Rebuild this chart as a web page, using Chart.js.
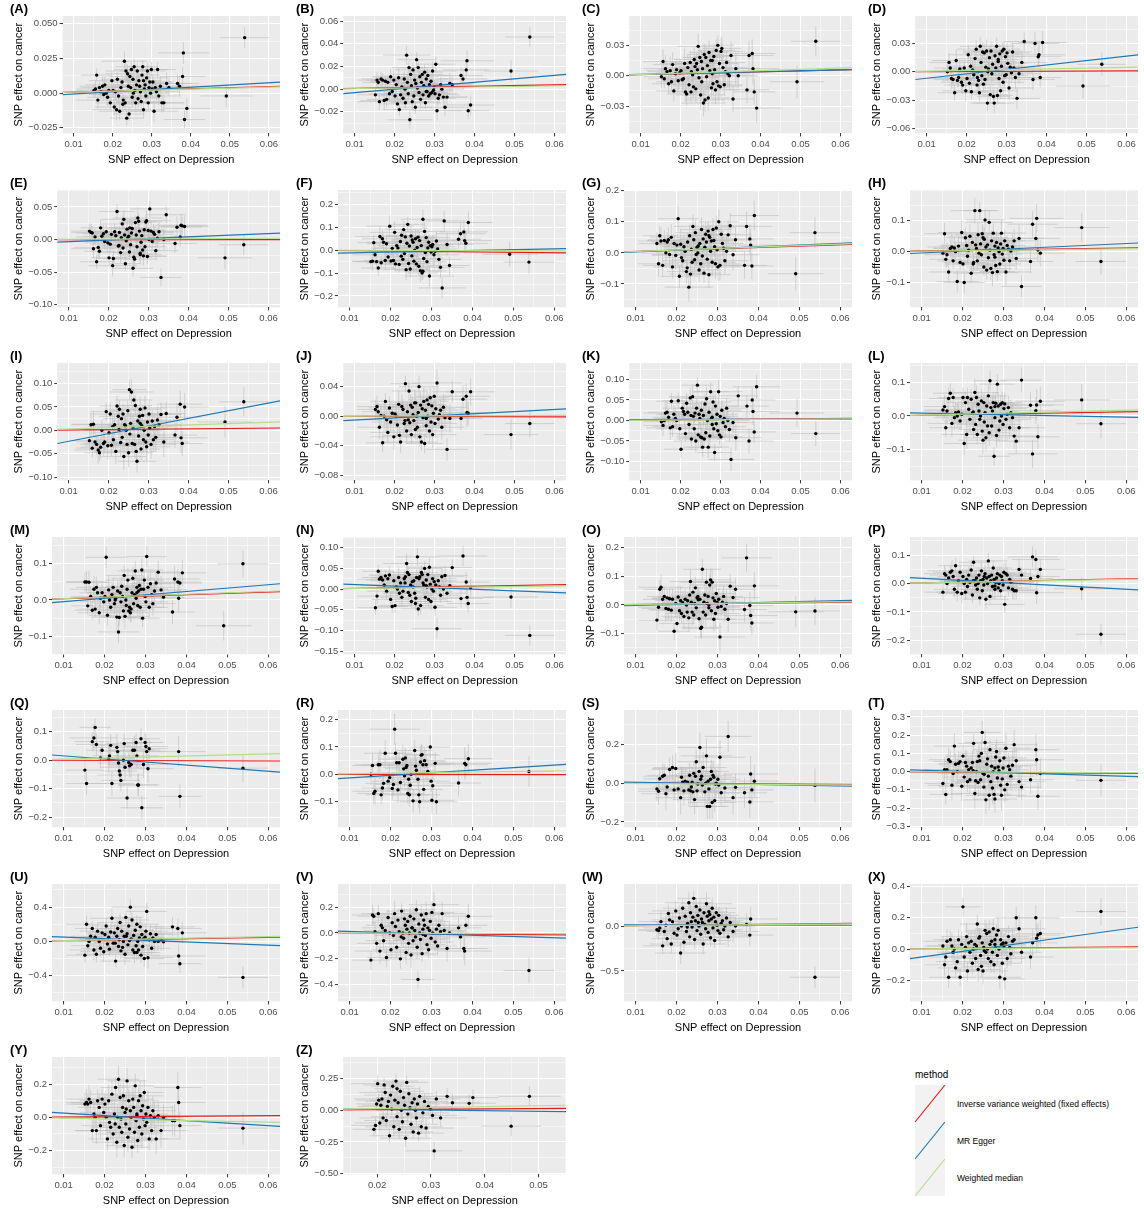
<!DOCTYPE html>
<html>
<head>
<meta charset="utf-8">
<script src="https://cdn.jsdelivr.net/npm/chart.js@4.4.1/dist/chart.umd.min.js"></script>
<style>
  body { margin: 0; background: #fff; width: 1144px; height: 1209px; position: relative; overflow: hidden;
         font-family: "Liberation Sans", Arial, sans-serif; }
  canvas { position: absolute; }
  #legend { position: absolute; left: 915px; top: 1068px; color: #000; }
  #legend .ltitle { font-size: 10px; height: 17px; line-height: 13px; }
  #legend .lkey { height: 37px; display: flex; align-items: center; }
  #legend .lkey svg { display: block; }
  #legend .lkey span { margin-left: 12px; font-size: 8.5px; white-space: nowrap; }
</style>
</head>
<body>
<div id="legend"></div>
<script>
// panel tags, one per outcome
const panelTags = ["(A)","(B)","(C)","(D)","(E)","(F)","(G)","(H)","(I)","(J)","(K)","(L)","(M)",
  "(N)","(O)","(P)","(Q)","(R)","(S)","(T)","(U)","(V)","(W)","(X)","(Y)","(Z)"];

const methodNames = ["Inverse variance weighted (fixed effects)", "MR Egger", "Weighted median"];
const methodColors = ["#E41A1C", "#1F78B4", "#B2DF8A"];

// SNP effect on depression (shared by panels A-Y) and its standard error
const xDep = [
  0.0152,0.0156,0.0159,0.0162,0.0166,0.0170,0.0174,0.0177,0.0180,0.0183,
  0.0187,0.0190,0.0194,0.0198,0.0201,0.0204,0.0207,0.0210,0.0212,0.0215,
  0.0218,0.0221,0.0224,0.0227,0.0230,0.0232,0.0234,0.0236,0.0238,0.0240,
  0.0242,0.0244,0.0246,0.0248,0.0250,0.0252,0.0255,0.0257,0.0259,0.0261,
  0.0263,0.0265,0.0267,0.0269,0.0271,0.0273,0.0275,0.0277,0.0279,0.0281,
  0.0283,0.0285,0.0287,0.0289,0.0291,0.0293,0.0295,0.0297,0.0299,0.0301,
  0.0303,0.0306,0.0309,0.0312,0.0315,0.0318,0.0322,0.0226,0.0253,0.0279,
  0.0326,0.0331,0.0338,0.0344,0.0366,0.0371,0.0379,0.0381,0.0384,0.0390,
  0.0491,0.0538];
const seDep = [
  .0045,.0050,.0040,.0055,.0048,.0042,.0060,.0038,.0050,.0044,
  .0052,.0047,.0039,.0058,.0043,.0050,.0046,.0062,.0041,.0049,
  .0054,.0044,.0048,.0037,.0059,.0046,.0051,.0043,.0056,.0047,
  .0040,.0053,.0049,.0045,.0061,.0042,.0048,.0055,.0044,.0050,
  .0046,.0057,.0041,.0052,.0048,.0063,.0045,.0039,.0054,.0047,
  .0050,.0043,.0058,.0046,.0052,.0041,.0060,.0048,.0044,.0055,
  .0049,.0062,.0045,.0051,.0047,.0056,.0059,.0043,.0053,.0046,
  .0057,.0052,.0064,.0049,.0055,.0061,.0058,.0066,.0053,.0060,
  .0068,.0062];

// panel Z uses its own instrument set
const xZ = [
  0.0194,0.0197,0.0199,0.0201,0.0203,0.0205,0.0207,0.0209,0.0211,0.0213,
  0.0215,0.0217,0.0219,0.0221,0.0223,0.0225,0.0227,0.0229,0.0231,0.0233,
  0.0235,0.0237,0.0239,0.0241,0.0243,0.0245,0.0247,0.0249,0.0251,0.0253,
  0.0255,0.0257,0.0259,0.0261,0.0263,0.0265,0.0267,0.0269,0.0271,0.0273,
  0.0275,0.0277,0.0279,0.0282,0.0285,0.0288,0.0291,0.0295,0.0299,0.0303,
  0.0306,0.0310,0.0318,0.0330,0.0340,0.0371,0.0378,0.0449,0.0483,0.0237];
const seZ = [
  .0040,.0045,.0038,.0050,.0042,.0047,.0036,.0052,.0044,.0039,
  .0048,.0041,.0055,.0043,.0037,.0050,.0046,.0040,.0053,.0045,
  .0042,.0049,.0038,.0056,.0044,.0047,.0040,.0051,.0043,.0048,
  .0039,.0054,.0045,.0041,.0050,.0046,.0037,.0052,.0044,.0049,
  .0042,.0047,.0055,.0040,.0048,.0043,.0051,.0045,.0050,.0046,
  .0053,.0044,.0049,.0047,.0052,.0050,.0048,.0056,.0058,.0042];

// SNP effect on cancer, in units of 0.001 (null = SNP not available)
const yUnit = 0.001;
const yA = [2,3,13,-5,4,1,5,-1,6,0, -3,2,-7,9,2,-10,1,-12,10,-2, -13,4,8,-5,23,-7,16,-18,14,5,
  -15,12,4,17,-3,10,19,2,-7,6, 16,-4,9,5,1,-6,13,19,-12,3, 6,-2,11,16,-7,4,8,0,17,3,
  8,-13,4,1,17,-2,5,-8,0,9, -7,-7,7,4,7,5,12,29,-19,-11, -2,40];
const yB = [-5,8,6,-11,9,8,-10,7,-9,6, -4,11,-2,8,-6,4,-13,10,-18,-5, 2,-8,9,-12,30,6,-4,19,-27,13,
  3,-11,17,-6,8,-16,26,1,19,-3, 11,-9,6,13,-5,3,15,-12,9,-2, 12,-6,4,-4,7,-3,16,-1,2,-4,
  22,-19,-8,-5,4,0,-7,0,5,-2, -16,-7,5,4,12,9,17,25,-19,-14, 16,46];
const yC = [-1,14,-3,7,4,-8,5,-6,11,-15, 2,6,-5,3,5,-4,-3,12,-16,-18, 8,-9,13,4,1,-11,16,9,-13,12,
  6,29,-2,18,-19,14,7,-27,21,-24, 18,-1,10,-22,23,5,15,-12,2,-8, 19,6,-14,25,-6,30,-10,12,-11,24,
  27,8,-9,4,13,2,0,-16,-6,15, 20,-23,7,0,-14,20,22,7,-16,-32, -6,34];
const yD = [0,10,4,-7,-8,-22,12,-9,-6,3, -11,-14,4,-20,-7,18,-12,6,-21,2, -3,14,24,-6,-9,-22,27,10,-4,21,
  -13,20,-8,5,22,-33,3,15,-24,22, -2,8,-26,-33,17,4,27,-25,13,-7, 19,-20,6,22,-11,24,-4,16,-3,20,
  9,-17,5,-1,21,4,-6,-14,0,11, -28,-2,10,32,-8,30,16,18,-6,31, -15,8];
const yE = [13,11,10,-14,4,-34,-12,-18,18,5, 9,-3,12,-5,-28,-7,8,-40,-29,12, 6,43,-10,11,-20,3,24,-13,31,7,
  -37,-2,16,3,5,-19,-8,10,17,-44, -27,-30,26,7,-11,33,28,13,-23,-4, 6,-16,-25,15,-11,27,29,-26,14,0,
  47,13,-3,11,8,-17,2,-9,18,-21, 12,-58,0,38,-6,19,4,22,21,20, -28,-8];
const yF = [-50,-48,33,-20,-50,-78,60,-55,50,35, -45,28,-30,105,-47,8,-45,78,-60,20, 10,-62,38,65,-40,90,-15,58,-85,30,
  113,-58,18,-82,62,-25,35,-48,0,50, -60,12,57,-70,42,-90,20,-100,135,-36, 82,-10,55,-50,10,35,-113,20,-8,15,
  25,-20,-5,40,5,-40,-75,-26,45,-92, -165,128,25,-67,48,72,80,42,30,121, -18,-52];
const yG = [30,-35,55,38,-40,40,0,35,42,-5, 50,-45,30,-8,25,110,-75,28,-15,-25, 20,5,-60,35,-110,55,-68,12,-30,85,
  42,-22,65,-5,18,0,-55,30,-35,75, -10,45,-65,18,60,35,-20,70,-70,50, 5,38,-30,75,40,20,-35,80,10,-45,
  100,-40,60,30,15,-25,5,-48,22,55, 58,87,-6,42,-40,85,45,25,-42,120, -67,65];
const yH = [-5,58,-25,-10,-66,10,15,-30,12,0, -97,18,-35,62,-40,-100,45,20,-15,5, 50,-70,30,-35,133,22,10,-30,55,-5,
  133,25,-10,58,45,-50,103,15,-60,22, -20,95,5,-55,35,-68,60,-10,18,-45, 30,-65,12,0,-40,25,60,-8,10,-28,
  35,-66,20,8,-30,2,15,-40,40,-18, 35,-22,43,-113,-32,89,43,108,5,-5, 78,-32];
const yI = [-22,12,-38,13,-25,-30,-42,-48,-36,0, -28,-25,40,-33,-5,35,-32,8,-20,12, -45,52,30,45,-26,25,-15,35,-56,12,
  10,0,-30,42,-48,87,15,82,-28,5, 65,-30,53,-45,-66,20,-12,30,45,-40, 10,32,-20,0,48,-25,-35,18,-10,35,
  5,-30,20,-20,8,-15,22,2,-8,15, 12,34,-25,36,-10,28,56,-16,-28,50, 18,61];
const yJ = [9,13,6,-15,1,-36,0,20,-5,-22, 11,-8,4,-28,3,0,-12,16,-26,-35, 13,9,-10,44,-20,6,-5,34,-9,15,
  -25,12,2,-6,18,-18,0,-15,5,40, -28,15,-35,10,-2,20,-37,8,-13,22, 0,16,-20,25,-8,14,-25,4,27,-10,
  10,45,-4,2,8,-15,12,-6,18,-3, -2,-45,-3,33,-3,23,27,5,4,33, -25,-10];
const yK = [-3,-12,0,18,20,8,-18,47,-15,15, 5,0,48,-20,-70,30,22,15,-32,42, 20,-10,55,-45,58,10,-20,18,-50,30,
  86,-35,15,5,-40,25,-65,12,-45,40, -30,53,0,-65,20,-38,70,5,-10,45, -20,-78,35,-8,15,-25,70,-35,10,-40,
  25,-5,5,-15,30,0,-22,12,-42,8, -95,-5,-42,60,35,-50,50,22,-28,82, 18,-32];
const yL = [18,28,-35,15,52,68,-22,55,-5,10, 0,12,-15,5,55,-82,40,-55,55,20, -10,50,8,-40,70,-25,55,-55,35,15,
  -10,0,45,-45,-72,40,10,-65,30,-30, 60,-50,105,25,-30,15,40,-120,-5,38, -58,95,30,-42,-15,35,0,40,-25,22,
  36,-10,5,25,-35,10,-5,12,-18,28, -60,-75,-35,107,32,-113,16,33,-62,44, 48,-23];
const yM = [50,50,-16,49,10,-28,30,-25,35,20, -35,5,20,-5,10,118,-42,28,0,-20, 15,35,-10,5,-47,25,-88,-48,20,-5,
  38,10,-30,68,-45,0,30,55,-30,-20, -35,-25,20,60,-10,15,80,5,35,-15, 25,40,-20,30,83,-50,30,55,10,-5,
  120,35,-20,45,15,-10,25,0,-15,20, 47,77,28,8,-33,58,50,5,47,75, -71,100];
const yN = [-45,-17,43,24,28,22,10,32,-5,25, 34,-25,-42,20,-40,5,0,28,-10,15, -20,-5,25,30,62,40,-8,35,-15,10,
  -30,18,5,20,-10,-35,28,78,-48,25, 30,-40,40,35,15,10,50,-20,22,5, 35,-25,53,12,-30,0,25,-5,18,-44,
  10,-96,20,5,-15,30,0,15,-22,8, 33,-10,8,52,-23,80,17,-20,-35,3, -19,-112];
const yO = [-53,-8,55,62,20,30,-12,25,-15,22, -18,20,-92,5,-65,28,-20,15,-30,8, -40,20,0,15,-45,35,82,10,-25,45,
  -35,5,60,-10,25,30,-48,20,-82,-78, 125,-25,10,35,-35,80,5,30,-10,70, 88,-20,80,25,-50,15,-30,40,10,-8,
  20,-112,-5,10,30,-15,5,-25,18,0, -50,66,26,55,-16,165,-2,-37,-63,67, -24,-21];
const yP = [-30,35,30,0,20,40,45,25,-20,63, -30,10,40,-35,25,0,-30,15,-10,30, 5,48,-40,75,10,-5,20,-20,0,30,
  -50,10,45,-25,15,-5,35,-55,20,0, 80,25,-45,10,30,-10,55,15,-20,5, 20,35,-15,0,30,-25,25,10,-5,40,
  -73,35,30,-15,15,5,-20,10,25,-8, -25,-25,50,30,18,94,85,-32,25,50, -18,-178];
const yQ = [-35,-82,null,null,null,65,78,115,55,null, null,8,35,null,null,null,null,5,15,52,
  -82,null,null,null,45,30,-10,-38,-52,-71, null,null,0,58,-25,null,-133,null,-8,-20,
  null,-15,null,35,null,35,null,62,15,-87, -87,null,null,75,-167,null,-15,null,62,48,
  30,-30,40,null,null,null,null,null,null,null, null,null,null,null,null,null,null,30,-127,null, null,-28];
const yR = [0,32,-70,-62,null,35,35,-75,-50,-33, 77,null,-25,-12,null,-52,-37,165,77,42,
  -57,42,-30,null,55,20,-5,60,25,32, -70,-18,-75,-40,0,null,-97,null,87,30,
  15,null,-18,-75,-100,45,70,72,35,-55, 50,null,35,null,10,null,null,100,-25,-95,
  -42,null,40,-100,null,null,null,null,null,null, null,null,null,null,-32,null,null,40,35,57, null,10];
const yS = [-30,-42,22,null,35,40,-55,-20,null,70, null,80,-35,75,null,-30,null,-75,30,5,
  -40,10,null,5,-35,40,-40,-20,5,-45, 50,-85,35,110,-40,-5,60,183,20,35,
  -10,80,null,-45,0,140,-120,10,-30,-120, 20,60,-100,40,30,-90,-5,0,null,20,
  -10,133,-50,null,null,-25,null,null,null,null, 240,null,-75,-22,-50,null,-97,47,-35,10, null,-12];
const yT = [-65,10,-125,10,65,55,-75,-10,140,40, 0,45,55,-80,85,-30,50,30,-55,10, -45,20,50,155,-120,-50,0,55,-60,85,
  60,-45,100,215,-10,-85,160,-155,40,70, -25,-130,120,-55,30,-90,0,-125,-150,80, 110,-35,25,5,60,-75,-130,-40,20,75,
  -100,128,-70,30,10,-25,35,5,-15,20, 148,60,-55,-85,-45,null,120,65,-135,-10, null,-48];
const yU = [-160,200,-50,0,60,150,-100,50,-150,120, 0,-80,100,-120,80,180,-30,50,-90,110, 270,-20,100,-230,60,150,-60,20,220,-110,
  120,-70,0,60,-150,280,90,-40,180,10, 400,30,250,-100,70,-130,130,-50,200,0, -100,40,170,-160,80,-60,30,-200,50,120,
  350,-190,20,90,-80,40,0,-20,60,-130, 80,0,20,-5,170,null,150,-170,-260,100, null,-420];
const yV = [-210,140,130,10,-80,150,-140,60,40,-60, 20,-190,120,0,-130,80,-20,150,50,-110, 100,10,-200,170,0,-40,110,60,-150,30,
  90,-80,0,130,-170,40,-60,110,20,-30, 180,-110,-360,70,0,-50,140,-160,30,100, 60,-20,150,-90,40,-130,20,90,-40,160,
  0,220,-70,30,-100,60,10,-30,40,-10, 150,20,-120,0,40,-30,-120,-140,60,130, null,-290];
const yW = [-40,-50,-20,50,-220,-60,10,-140,140,70, -200,50,-80,170,-100,-30,90,-300,0,200, -180,110,-60,30,260,-120,150,50,-10,100,
  310,-150,60,220,-50,120,0,180,-90,80, 40,-200,150,20,-30,250,110,-70,60,130, -130,80,200,-20,100,-160,50,150,10,-50,
  120,-80,30,60,-40,0,90,-10,40,160, -120,40,-60,0,null,20,-100,80,null,null, null,-570];
const yX = [20,-100,-50,50,-180,60,20,-20,0,-120, -80,60,-180,30,270,-50,10,80,-140,40, -20,50,-90,0,30,-60,20,160,-130,70,
  80,-40,-110,40,-140,10,120,-20,100,0, -60,110,30,-80,50,-20,130,-100,60,10, 90,-40,120,0,-180,60,30,-90,40,20,
  -190,40,-60,80,10,-30,50,0,-10,30, 60,200,130,-20,-50,40,200,70,90,100, null,240];
const yY = [80,90,80,110,90,-80,20,0,-80,100, 60,-50,110,30,80,0,-130,100,-30,-60, 140,-100,20,180,-150,0,230,-60,120,-10,
  -90,60,130,-170,30,-40,220,-120,100,-70, 40,0,-180,110,60,-90,190,-20,10,-140, 100,-60,130,40,-100,70,-10,150,-50,20,
  -30,60,-130,10,-80,40,0,-40,50,20, -130,10,-80,0,-20,-20,180,90,-50,null, null,-65];
const yZ = [-150,-120,50,210,80,-100,40,90,-60,200, 140,-80,30,70,-200,120,10,190,-130,80,
  230,-50,60,-150,150,0,-90,100,40,-220, 220,-30,130,20,-110,60,-170,90,0,-60,
  50,-180,110,-130,-20,70,-140,30,10,-40, -320,90,-60,110,60,55,100,-125,110,170];
const panelY = [yA,yB,yC,yD,yE,yF,yG,yH,yI,yJ,yK,yL,yM,yN,yO,yP,yQ,yR,yS,yT,yU,yV,yW,yX,yY,yZ];

// ratio of outcome SE to exposure SE, per panel
const seRatio = [1.2,1.4,2.4,2,2.6,8,8,7,5,3,5,7,6,4,8,6,8,9,14,14,20,16,20,14,16,14];

// fitted MR estimates per panel
const ivwSlope = [0.079,0.064,0.095,0.016,0.0,-0.19,0.43,0.19,0.08,-0.016,0.08,0.207,0.366,
  0.175,0.159,0.286,-0.048,-0.016,-0.095,-0.159,0.795,-0.238,0.477,0.238,0.159,0.27];
const eggerIntercept = [-0.0022,-0.0062,0.00035,-0.0114,-0.0058,-0.0156,-0.0019,-0.0104,-0.0398,-0.0081,0.0019,0.0107,-0.0137,
  0.0147,-0.0043,0.0266,0.0258,-0.0227,0.0077,0.0149,0.0686,0.0221,0.0156,-0.0859,0.041,0.0168];
const eggerSlope = [0.162,0.305,0.09,0.467,0.251,0.359,0.539,0.61,1.634,0.287,0.018,-0.233,0.934,
  -0.377,0.323,-0.772,-1.077,0.934,-0.377,-0.682,-1.885,-0.987,-0.09,3.59,-1.526,-0.485];
const wmSlope = [0.072,0.048,0.127,0.08,0.032,-0.048,0.477,0.16,0.286,0.016,0.064,0.286,0.397,
  0.127,0.19,0.254,0.366,0.207,-0.159,-0.08,0.954,-0.08,0.397,0.159,-0.477,0.72];

// axes
const xRange = [0.00715, 0.06285];
const xRangeZ = [0.0137, 0.0551];
const xTicks = [0.01, 0.02, 0.03, 0.04, 0.05, 0.06];
const xTicksZ = [0.02, 0.03, 0.04, 0.05];
const yMin = [-0.029,-0.039,-0.057,-0.065,-0.104,-0.25,-0.175,-0.181,-0.107,-0.087,-0.146,-0.192,-0.15,
  -0.158,-0.173,-0.249,-0.236,-0.194,-0.228,-0.306,-0.70,-0.53,-0.84,-0.334,-0.344,-0.505];
const yMax = [0.0556,0.0645,0.059,0.059,0.076,0.263,0.202,0.2,0.144,0.072,0.14,0.158,0.174,
  0.126,0.238,0.164,0.176,0.235,0.376,0.338,0.67,0.38,0.47,0.416,0.364,0.42];
const yTicks = [
  [-0.025,0,0.025,0.05], [-0.02,0,0.02,0.04,0.06], [-0.03,0,0.03], [-0.06,-0.03,0,0.03],
  [-0.1,-0.05,0,0.05], [-0.2,-0.1,0,0.1,0.2], [-0.1,0,0.1,0.2], [-0.1,0,0.1],
  [-0.1,-0.05,0,0.05,0.1], [-0.08,-0.04,0,0.04], [-0.1,-0.05,0,0.05,0.1], [-0.1,0,0.1],
  [-0.1,0,0.1], [-0.15,-0.1,-0.05,0,0.05,0.1], [-0.1,0,0.1,0.2], [-0.2,-0.1,0,0.1],
  [-0.2,-0.1,0,0.1], [-0.1,0,0.1,0.2], [-0.2,0,0.2], [-0.3,-0.2,-0.1,0,0.1,0.2,0.3],
  [-0.4,0,0.4], [-0.4,-0.2,0,0.2], [-0.5,0], [-0.2,0,0.2,0.4], [-0.2,0,0.2], [-0.5,-0.25,0,0.25]];
const yDigits = [3,2,2,2,2,1,1,1,2,2,2,1,1,2,1,1,1,1,1,1,1,1,1,1,1,2];

Chart.defaults.font.family = '"Liberation Sans", Arial, sans-serif';

function fmt(v, d) {
  return (v < -1e-12 ? "\u2212" : "") + Math.abs(v).toFixed(d);
}

// major ticks plus ggplot-style minor breaks halfway between them
function gridValues(min, max, majors) {
  const h = (majors[1] - majors[0]) / 2;
  const out = [];
  for (let k = Math.ceil(min / h - 1e-9); k * h <= max + 1e-12; k++) out.push(+(k * h).toFixed(10));
  return out;
}
function isMajor(v, majors) {
  return majors.some(m => Math.abs(m - v) < 1e-9);
}

function axis(min, max, majors, digits, title) {
  return {
    type: "linear", min, max,
    afterBuildTicks: s => { s.ticks = gridValues(min, max, majors).map(v => ({ value: v })); },
    ticks: {
      autoSkip: false, maxRotation: 0, padding: 2, color: "#4D4D4D", font: { size: 9.5 },
      callback: v => isMajor(v, majors) ? fmt(v, digits) : ""
    },
    grid: {
      color: "#FFFFFF",
      lineWidth: c => (c.tick && isMajor(c.tick.value, majors)) ? 1.1 : 0.5,
      tickLength: 3, tickWidth: 1,
      tickColor: c => (c.tick && isMajor(c.tick.value, majors)) ? "#333333" : "rgba(0,0,0,0)"
    },
    border: { display: false },
    title: { display: true, text: title, color: "#000", font: { size: 11 }, padding: { top: 2, bottom: 1 } }
  };
}

const panelBackground = {
  id: "panelBackground",
  beforeDraw(chart) {
    const a = chart.chartArea;
    chart.ctx.save();
    chart.ctx.fillStyle = "#EBEBEB";
    chart.ctx.fillRect(a.left, a.top, a.right - a.left, a.bottom - a.top);
    chart.ctx.restore();
  }
};

const errorBars = {
  id: "errorBars",
  beforeDatasetsDraw(chart) {
    const ds = chart.data.datasets[0];
    const xs = chart.scales.x, ys = chart.scales.y, a = chart.chartArea, ctx = chart.ctx;
    ctx.save();
    ctx.beginPath();
    ctx.rect(a.left, a.top, a.right - a.left, a.bottom - a.top);
    ctx.clip();
    ctx.strokeStyle = "#BEBEBE";
    ctx.lineWidth = 0.6;
    ctx.beginPath();
    ds.data.forEach((p, k) => {
      const px = xs.getPixelForValue(p.x), py = ys.getPixelForValue(p.y);
      ctx.moveTo(xs.getPixelForValue(p.x - ds.errX[k]), py);
      ctx.lineTo(xs.getPixelForValue(p.x + ds.errX[k]), py);
      ctx.moveTo(px, ys.getPixelForValue(p.y - ds.errY[k]));
      ctx.lineTo(px, ys.getPixelForValue(p.y + ds.errY[k]));
    });
    ctx.stroke();
    ctx.restore();
  }
};

panelTags.forEach((tag, i) => {
  const isZ = i === panelTags.length - 1;
  const xs = isZ ? xZ : xDep;
  const se = isZ ? seZ : seDep;
  const [x0, x1] = isZ ? xRangeZ : xRange;

  const pts = [], errX = [], errY = [];
  panelY[i].forEach((v, k) => {
    if (v === null) return;
    pts.push({ x: xs[k], y: v * yUnit });
    errX.push(se[k]);
    errY.push(se[k] * seRatio[i]);
  });

  const fit = [[0, ivwSlope[i]], [eggerIntercept[i], eggerSlope[i]], [0, wmSlope[i]]];
  const lines = fit.map(([a, b], m) => ({
    data: [{ x: x0, y: a + b * x0 }, { x: x1, y: a + b * x1 }],
    showLine: true, borderColor: methodColors[m], borderWidth: 1.2,
    pointRadius: 0, pointHoverRadius: 0, order: 3 - m, label: methodNames[m]
  }));

  const col = i % 4, row = Math.floor(i / 4);
  const canvas = document.createElement("canvas");
  canvas.width = 286; canvas.height = 173;
  canvas.style.left = (col * 286) + "px";
  canvas.style.top = Math.round(row * 173.5) + "px";
  canvas.style.width = "286px"; canvas.style.height = "173px";
  document.body.appendChild(canvas);

  new Chart(canvas, {
    type: "scatter",
    data: {
      datasets: [
        { data: pts, errX, errY, pointRadius: 1.7, pointHoverRadius: 1.7, pointBorderWidth: 0,
          pointBackgroundColor: "#000", order: 10 },
        ...lines
      ]
    },
    options: {
      responsive: false, animation: false, devicePixelRatio: 1, events: [],
      layout: { padding: { left: 10, right: 6, top: 0, bottom: 5 } },
      scales: {
        x: axis(x0, x1, isZ ? xTicksZ : xTicks, 2, "SNP effect on Depression"),
        y: axis(yMin[i], yMax[i], yTicks[i], yDigits[i], "SNP effect on cancer")
      },
      plugins: {
        legend: { display: false },
        tooltip: { enabled: false },
        title: { display: true, text: tag, align: "start", color: "#000",
          font: { size: 13, weight: "bold", lineHeight: 1 }, padding: { top: 3, bottom: 0 } }
      }
    },
    plugins: [panelBackground, errorBars]
  });
});

// method legend
const legend = document.getElementById("legend");
legend.innerHTML = '<div class="ltitle">method</div>' + methodNames.map((name, m) =>
  '<div class="lkey"><svg width="30" height="37"><rect width="30" height="37" fill="#F2F2F2"/>' +
  '<line x1="0" y1="37" x2="30" y2="0" stroke="' + methodColors[m] + '" stroke-width="1.1"/></svg>' +
  '<span>' + name + '</span></div>').join("");
</script>
</body>
</html>
